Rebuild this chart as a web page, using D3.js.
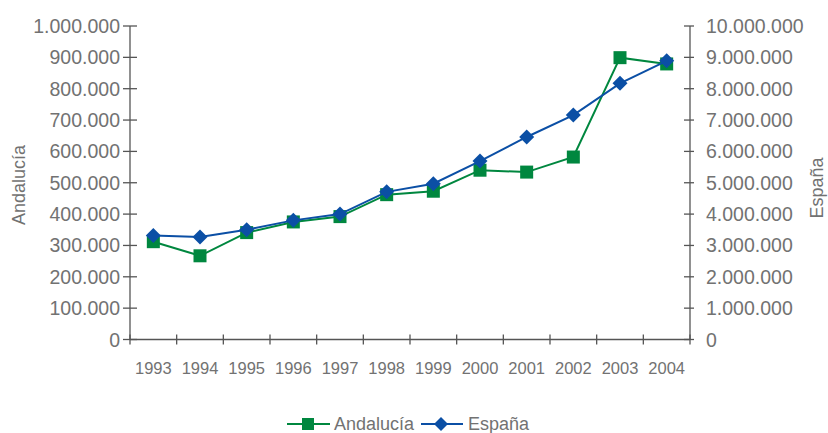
<!DOCTYPE html>
<html><head><meta charset="utf-8">
<script src="https://cdn.jsdelivr.net/npm/d3@7"></script>
<style>
html,body{margin:0;padding:0;background:#fff;}
text{font-family:"Liberation Sans",Arial,sans-serif;fill:#727272;}
</style></head>
<body>
<svg id="chart" width="828" height="433"></svg>
<script>
const years = ["1993","1994","1995","1996","1997","1998","1999","2000","2001","2002","2003","2004"];
const andalucia = [312000,267000,341000,375000,392000,462000,473000,540000,534000,582000,899000,879000];
const espana = [3320000,3270000,3500000,3800000,4000000,4710000,4970000,5690000,6460000,7160000,8170000,8890000];
const leftTicks = [0,100000,200000,300000,400000,500000,600000,700000,800000,900000,1000000];
const rightTicks = [0,1000000,2000000,3000000,4000000,5000000,6000000,7000000,8000000,9000000,10000000];
const seriesNames = ["Andalucía","España"];
const colors = {green:"#00873f", blue:"#0b4fa5", axis:"#555"};

const locale = d3.formatLocale({decimal:",", thousands:".", grouping:[3], currency:["","€"]});
const fmt = locale.format(",");

const svg = d3.select("#chart");
const L = 130, R = 690, T = 26, B = 339.5;
const x = d3.scaleBand().domain(years).range([L, R]).padding(0);
const cx = d => x(d) + x.bandwidth()/2;
const yL = d3.scaleLinear().domain([0,1000000]).range([B, T]);
const yR = d3.scaleLinear().domain([0,10000000]).range([B, T]);

// axes
const ax = svg.append("g").attr("stroke", colors.axis).attr("stroke-width", 1.3);
ax.append("line").attr("x1", L).attr("x2", L).attr("y1", T).attr("y2", B);
ax.append("line").attr("x1", R).attr("x2", R).attr("y1", T).attr("y2", B);
ax.append("line").attr("x1", L).attr("x2", R).attr("y1", B).attr("y2", B);
ax.selectAll(".lt").data(leftTicks).join("line")
  .attr("x1", L-7).attr("x2", L+7).attr("y1", d=>yL(d)).attr("y2", d=>yL(d));
ax.selectAll(".rt").data(rightTicks).join("line")
  .attr("x1", R-6).attr("x2", R+4).attr("y1", d=>yR(d)).attr("y2", d=>yR(d));
const xt = years.map(y => x(y)).concat([R]);
ax.selectAll(".xt").data(xt).join("line")
  .attr("x1", d=>d).attr("x2", d=>d).attr("y1", B-5).attr("y2", B+5);

// labels
svg.append("g").selectAll("text").data(leftTicks).join("text")
  .attr("x", 120).attr("y", d=>yL(d)).attr("dy","0.36em")
  .attr("text-anchor","end").style("font-size","19.5px").text(d=>fmt(d));
svg.append("g").selectAll("text").data(rightTicks).join("text")
  .attr("x", 706).attr("y", d=>yR(d)).attr("dy","0.36em")
  .attr("text-anchor","start").style("font-size","19.5px").text(d=>fmt(d));
svg.append("g").selectAll("text").data(years).join("text")
  .attr("x", d=>cx(d)).attr("y", 374)
  .attr("text-anchor","middle").style("font-size","16.5px").text(d=>d);

svg.append("text").attr("transform","translate(25,185) rotate(-90)")
  .attr("text-anchor","middle").style("font-size","18px").text(seriesNames[0]);
svg.append("text").attr("transform","translate(823,188) rotate(-90)")
  .attr("text-anchor","middle").style("font-size","18px").text(seriesNames[1]);

// lines
const lineA = d3.line().x((d,i)=>cx(years[i])).y(d=>yL(d));
const lineE = d3.line().x((d,i)=>cx(years[i])).y(d=>yR(d));
svg.append("path").attr("d", lineA(andalucia)).attr("fill","none")
  .attr("stroke", colors.green).attr("stroke-width", 2);
svg.append("g").selectAll("rect").data(andalucia).join("rect")
  .attr("x",(d,i)=>cx(years[i])-6.5).attr("y",d=>yL(d)-6.5)
  .attr("width",13).attr("height",13).attr("fill",colors.green);

svg.append("path").attr("d", lineE(espana)).attr("fill","none")
  .attr("stroke", colors.blue).attr("stroke-width", 2);
const diamond = "M0,-7.5L7.5,0L0,7.5L-7.5,0Z";
svg.append("g").selectAll("path").data(espana).join("path")
  .attr("transform",(d,i)=>`translate(${cx(years[i])},${yR(d)})`)
  .attr("d", diamond).attr("fill", colors.blue);

// legend
const lg = svg.append("g");
lg.append("line").attr("x1",287).attr("x2",330).attr("y1",424).attr("y2",424)
  .attr("stroke",colors.green).attr("stroke-width",2);
lg.append("rect").attr("x",302).attr("y",418).attr("width",12).attr("height",12).attr("fill",colors.green);
lg.append("text").attr("x",334).attr("y",424).attr("dy","0.36em").style("font-size","18px").text(seriesNames[0]);
lg.append("line").attr("x1",421).attr("x2",463).attr("y1",424).attr("y2",424)
  .attr("stroke",colors.blue).attr("stroke-width",2);
lg.append("path").attr("transform","translate(441,424)").attr("d","M0,-7L7,0L0,7L-7,0Z").attr("fill",colors.blue);
lg.append("text").attr("x",468).attr("y",424).attr("dy","0.36em").style("font-size","18px").text(seriesNames[1]);
</script>
</body></html>
